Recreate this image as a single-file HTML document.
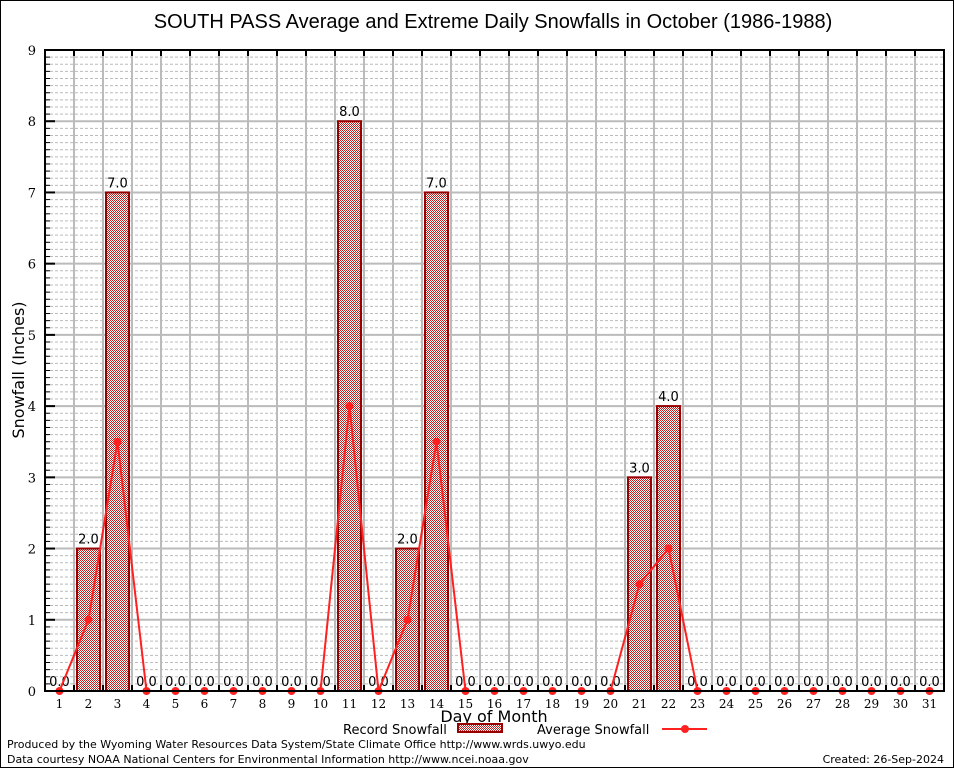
<!DOCTYPE html>
<html><head><meta charset="utf-8"><style>
body{margin:0;background:#fff;}
svg{display:block;font-family:"DejaVu Sans","Liberation Sans",sans-serif;}
</style></head><body>
<svg id="c" width="954" height="768" xmlns="http://www.w3.org/2000/svg">
<defs><pattern id="chk" width="2" height="2" patternUnits="userSpaceOnUse"><rect width="2" height="2" fill="#fff"/><rect width="1" height="1" fill="#c02020"/><rect x="1" y="1" width="1" height="1" fill="#c02020"/></pattern></defs>
<rect x="0.5" y="0.5" width="953" height="767" fill="#fff" stroke="#000"/>
<text x="493" y="28" font-size="20" text-anchor="middle" font-family="Liberation Sans, sans-serif">SOUTH PASS Average and Extreme Daily Snowfalls in October (1986-1988)</text>
<g id="grid"></g><g id="bars"></g><g id="line"></g><g id="axes"></g>
<text x="24" y="370" font-size="16" text-anchor="middle" transform="rotate(-90 24 370)">Snowfall (Inches)</text>
<text x="494" y="722" font-size="16" text-anchor="middle">Day of Month</text>
<g>
<text x="343" y="734" font-size="13">Record Snowfall</text>
<rect x="458" y="724" width="44" height="8" fill="url(#chk)" stroke="#990000" stroke-width="2"/>
<text x="537" y="734" font-size="13">Average Snowfall</text>
<line x1="662" y1="729" x2="707" y2="729" stroke="#ff2020" stroke-width="2"/>
<circle cx="685" cy="729" r="4" fill="#ff2020"/>
</g>
<text x="7" y="748" font-size="11">Produced by the Wyoming Water Resources Data System/State Climate Office http://www.wrds.uwyo.edu</text>
<text x="7" y="763" font-size="11">Data courtesy NOAA National Centers for Environmental Information http://www.ncei.noaa.gov</text>
<text x="944" y="763" font-size="11" text-anchor="end">Created: 26-Sep-2024</text>
</svg>
<script>
const days=[1,2,3,4,5,6,7,8,9,10,11,12,13,14,15,16,17,18,19,20,21,22,23,24,25,26,27,28,29,30,31];
const recordValues=[0,2,7,0,0,0,0,0,0,0,8,0,2,7,0,0,0,0,0,0,3,4,0,0,0,0,0,0,0,0,0];
const averageValues=[0,1,3.5,0,0,0,0,0,0,0,4,0,1,3.5,0,0,0,0,0,0,1.5,2,0,0,0,0,0,0,0,0,0];
const yTicks=[0,1,2,3,4,5,6,7,8,9];
const L=45,R=944,T=50,B=691,YMAX=9;
const NS="http://www.w3.org/2000/svg";
const bw=(R-L)/days.length;
const x=d=>L+(d-0.5)*bw;
const y=v=>B-(v/YMAX)*(B-T);
function mk(tag,attrs,parent,txt){const e=document.createElementNS(NS,tag);for(const k in attrs)e.setAttribute(k,attrs[k]);if(txt!==undefined)e.textContent=txt;document.getElementById(parent).appendChild(e);return e;}
for(let i=1;i<YMAX*10;i++){if(i%10===0)continue;const e=mk('line',{x1:L,x2:R,y1:y(i/10),y2:y(i/10),stroke:'#bbb','stroke-dasharray':'3,2','stroke-width':1},'grid');


const t=mk('line',{x1:L,x2:L+5,y1:y(i/10),y2:y(i/10),stroke:'#000'},'axes');

}
yTicks.forEach(v=>{const e=mk('line',{x1:L,x2:R,y1:y(v),y2:y(v),stroke:'#bbb','stroke-width':2},'grid');


const t=mk('text',{x:L-9,y:y(v)+5,'font-size':13,'text-anchor':'end','font-family':'DejaVu Serif, Liberation Serif, serif'},'axes',String(v));


const k=mk('line',{x1:L,x2:L+10,y1:y(v),y2:y(v),stroke:'#000','stroke-width':2},'axes');

});
for(let i=1;i<days.length;i++){const gx=L+i*bw;const e=mk('line',{x1:gx,x2:gx,y1:T,y2:B,stroke:'#bbb','stroke-width':2},'grid');


const k=mk('line',{x1:gx,x2:gx,y1:T,y2:T+6,stroke:'#000','stroke-width':2},'axes');


const k2=mk('line',{x1:gx,x2:gx,y1:B,y2:B-6,stroke:'#000','stroke-width':2},'axes');

}
days.forEach((d,i)=>{const v=recordValues[i];
if(v>0){const r=mk('rect',{x:x(d)-11.5,y:y(v),width:23,height:B-y(v),fill:'url(#chk)',stroke:'#990000','stroke-width':2},'bars');

}
const t=mk('text',{x:x(d),y:y(v)-5,'font-size':13,'text-anchor':'middle'},'bars',v.toFixed(1));


const xl=mk('text',{x:x(d),y:B+17,'font-size':12,'text-anchor':'middle','font-family':'DejaVu Serif, Liberation Serif, serif'},'axes',String(d));

});
const pl=mk('polyline',{points:days.map((d,i)=>x(d)+','+y(averageValues[i])).join(' '),fill:'none',stroke:'#ff2020','stroke-width':2},'line');


days.forEach((d,i)=>{const c=mk('circle',{cx:x(d),cy:y(averageValues[i]),r:4,fill:'#ff2020'},'line');

});
const fr=mk('rect',{x:L,y:T,width:R-L,height:B-T,fill:'none',stroke:'#000','stroke-width':2},'axes');


</script>
</body></html>
